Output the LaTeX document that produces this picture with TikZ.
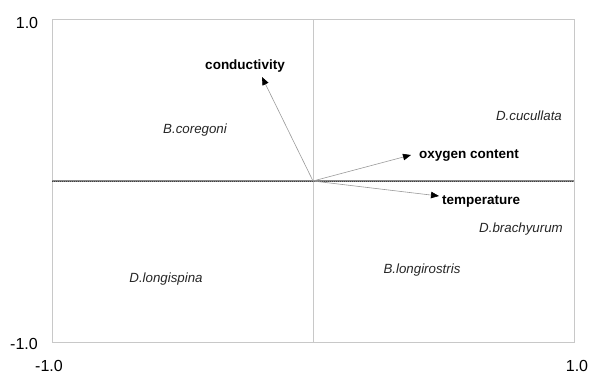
\documentclass[tikz,border=0pt]{standalone}
\usepackage{fontspec}
\setmainfont{Liberation Sans}
\usetikzlibrary{arrows.meta}
\definecolor{framegray}{HTML}{C8C8C8}
\definecolor{arrgray}{HTML}{9A9A9A}
\definecolor{axisdark}{HTML}{6A6A6A}
\begin{document}
\begin{tikzpicture}[x=1pt,y=-1pt,
  species/.style={font=\fontsize{13.3}{15}\selectfont\itshape, text=black!85, inner sep=0pt},
  envlabel/.style={font=\fontsize{13.5}{15}\selectfont\bfseries, text=black, inner sep=0pt},
  ticklabel/.style={font=\fontsize{16}{18}\selectfont, text=black, inner sep=0pt},
  envarrow/.style={draw=arrgray, line width=0.6pt, -{Triangle[length=8pt,width=6.5pt,black]}}]
\useasboundingbox (0,0) rectangle (590,375);
\draw[framegray, line width=0.7pt] (52,19) rectangle (574,342);
\draw[framegray, line width=0.7pt] (313,19) -- (313,342);
\draw[axisdark!80, line width=1.2pt] (52,181) -- (574,181);
\draw[axisdark!60!black, line width=0.6pt, dash pattern=on 1pt off 1pt] (52,181) -- (574,181);
\coordinate (o) at (313,181);
\coordinate (tc) at (262,77);
\coordinate (to) at (411,155);
\coordinate (tt) at (439,196);
\draw[envarrow] (o) -- (tc);
\draw[envarrow] (o) -- (to);
\draw[envarrow] (o) -- (tt);
\node[envlabel] (lc) at (245,66) {conductivity};
\node[envlabel, anchor=west] (lo) at (419,156) {oxygen content};
\node[envlabel, anchor=west] (lt) at (442,201) {temperature};
\node[species] (bc) at (195,130) {B.coregoni};
\node[species] (dc) at (529,116) {D.cucullata};
\node[species] (db) at (521,229) {D.brachyurum};
\node[species] (bl) at (422,270) {B.longirostris};
\node[species] (dl) at (166,279) {D.longispina};
\node[ticklabel] (y1) at (27,22.5) {1.0};
\node[ticklabel] (ym) at (24,344) {-1.0};
\node[ticklabel] (xm) at (49,366) {-1.0};
\node[ticklabel] (x1) at (577,366) {1.0};
\end{tikzpicture}
\end{document}
